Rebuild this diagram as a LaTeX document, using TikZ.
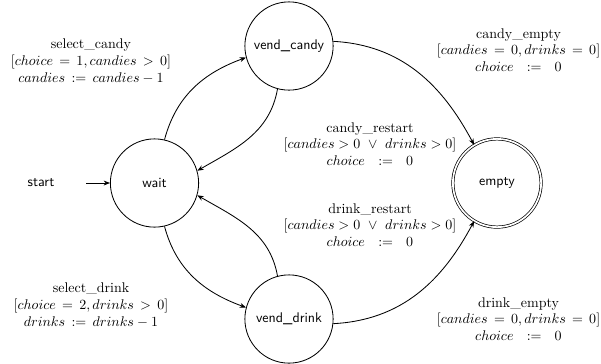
\documentclass[tikz,border=0pt]{standalone}
\usetikzlibrary{arrows.meta}
\begin{document}
\begin{tikzpicture}[x=0.714pt,y=-0.714pt,
  state/.style={circle,draw,line width=0.6pt,minimum size=63pt,inner sep=0pt,font=\sffamily},
  final/.style={state,double,double distance=1.2pt,line width=0.5pt},
  trans/.style={-{Stealth[length=4.5pt,width=3.5pt]},line width=0.6pt},
  lbl/.style={align=center,inner sep=0pt}]
\useasboundingbox (0,0) rectangle (601,363);

% states
\node[state] (wait) at (154.5,183) {wait};
\node[state] (vc) at (289,46) {vend\_candy};
\node[state] (vd) at (289,319) {vend\_drink};
\node[final] (empty) at (497,183) {empty};
\node[inner sep=0pt,font=\sffamily] (start) at (41,183) {start};

% transitions
\draw[trans,shorten <=22.5pt] (start.east) -- (wait.west);
\draw[trans] (wait.77) to[out=75,in=200] (vc.195);
\draw[trans] (vc.255) to[out=-100,in=30] (wait.16);
\draw[trans] (wait.-77) to[out=-75,in=160] (vd.165);
\draw[trans] (vd.105) to[out=100,in=-30] (wait.-16);
\draw[trans] (vc.6) to[out=-3,in=118] (empty.121);
\draw[trans] (vd.-6) to[out=3,in=-118] (empty.-121);

% guards and updates
\node[lbl] (l1) at (91,61) {select\_candy\\$[choice\,=\,1, candies\,>\,0]$\\$candies\,:=\,candies-1$};
\node[lbl] (l2) at (518.5,50) {candy\_empty\\$[candies\,=\,0, drinks\,=\,0]$\\$choice\ \ :=\ \ 0$};
\node[lbl] (l3) at (370,144) {candy\_restart\\$[candies>0\ \vee\ drinks>0]$\\$choice\ \ :=\ \ 0$};
\node[lbl] (l4) at (370,225) {drink\_restart\\$[candies>0\ \vee\ drinks>0]$\\$choice\ \ :=\ \ 0$};
\node[lbl] (l5) at (91,305) {select\_drink\\$[choice\,=\,2, drinks\,>\,0]$\\$drinks\,:=\,drinks-1$};
\node[lbl] (l6) at (518.5,319) {drink\_empty\\$[candies\,=\,0, drinks\,=\,0]$\\$choice\ \ :=\ \ 0$};
\end{tikzpicture}
\end{document}
